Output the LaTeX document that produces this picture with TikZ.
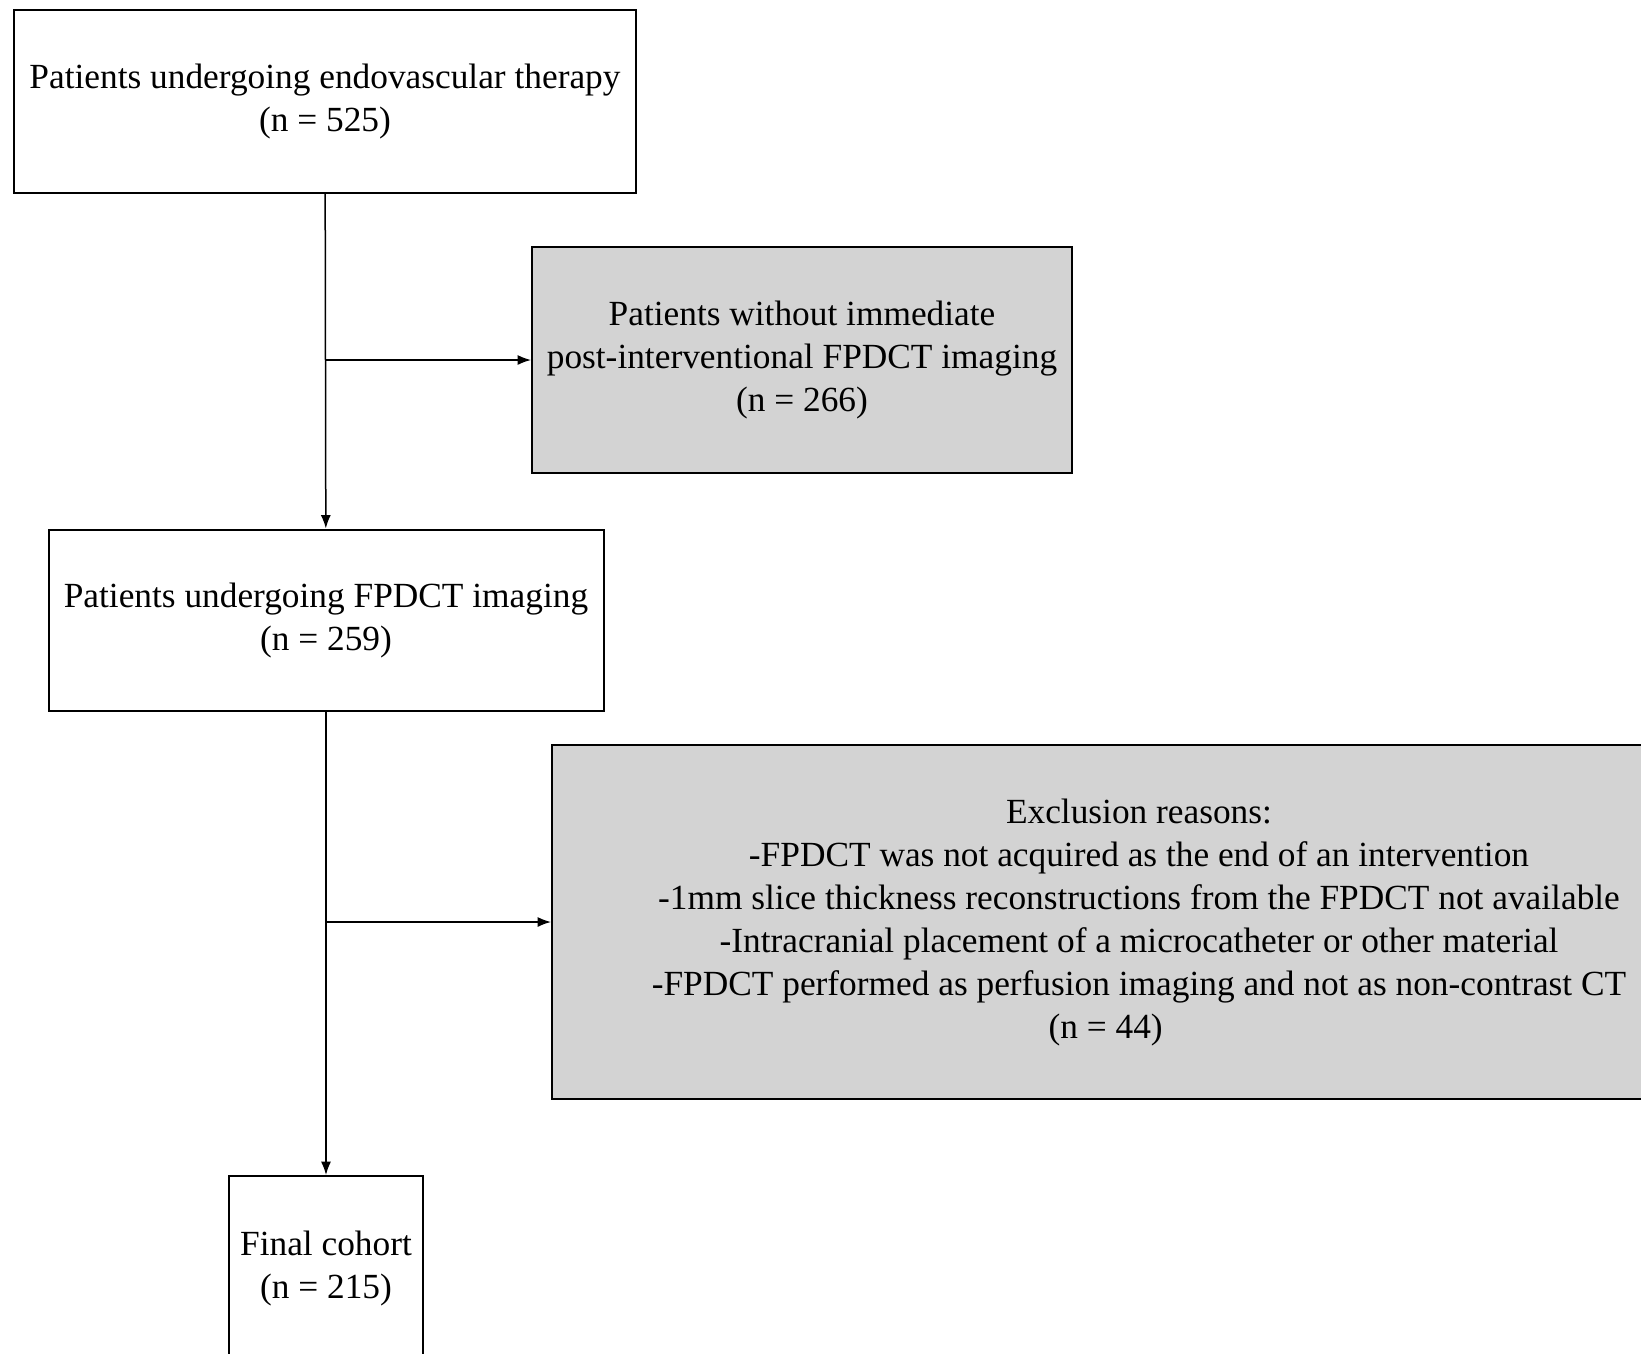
\documentclass[tikz,border=0pt]{standalone}
\usepackage{fontspec}
\setmainfont{Liberation Serif}
\usetikzlibrary{arrows.meta}
\definecolor{boxgrey}{RGB}{211,211,211}
\begin{document}
\begin{tikzpicture}[x=0.3pt, y=-0.3pt,
    box/.style={draw, line width=0.6pt, align=center, inner sep=0pt,
                font=\fontsize{10.6}{12.9}\selectfont},
    greybox/.style={box, fill=boxgrey}]
        \useasboundingbox (0,0) rectangle (1641,1354);
        \clip (0,0) rectangle (1641,1354);

        \node [box, minimum width=622*0.3pt, minimum height=183*0.3pt] (P0) at (325,101)
            {Patients undergoing endovascular therapy\\(n = 525)};
        \node [greybox, minimum width=540*0.3pt, minimum height=226*0.3pt] (E1) at (802,360)
            {Patients without immediate\\post-interventional FPDCT imaging\\(n = 266)};
        \node [box, minimum width=555*0.3pt, minimum height=181*0.3pt] (P1) at (326,620)
            {Patients undergoing FPDCT imaging\\(n = 259)};
        \node [greybox, minimum width=1174*0.3pt, minimum height=354*0.3pt] (E2) at (1139,922)
            {Exclusion reasons:\\
             -FPDCT was not acquired as the end of an intervention\\
             -1mm slice thickness reconstructions from the FPDCT not available\\
             -Intracranial placement of a microcatheter or other material\\
             -FPDCT performed as perfusion imaging and not as non-contrast CT\\
             (n = 44)\hspace*{20pt}};
        \node [box, minimum width=194*0.3pt, minimum height=184*0.3pt] (P2) at (326,1268)
            {Final cohort\\(n = 215)};

        \coordinate (B1) at (326,360);
        \coordinate (B2) at (326,922);

        % main flow
        \draw[-{Latex[length=4pt,width=3pt]}, line width=0.45pt] (P0) -- (P1);
        \draw[-{Latex[length=4pt,width=3pt]}, line width=0.45pt] (P1) -- (P2);
        % exclusions
        \draw[-{Latex[length=4pt,width=3pt]}, line width=0.45pt] (B1) -- (E1);
        \draw[-{Latex[length=4pt,width=3pt]}, line width=0.45pt] (B2) -- (E2);
    \end{tikzpicture}
\end{document}
